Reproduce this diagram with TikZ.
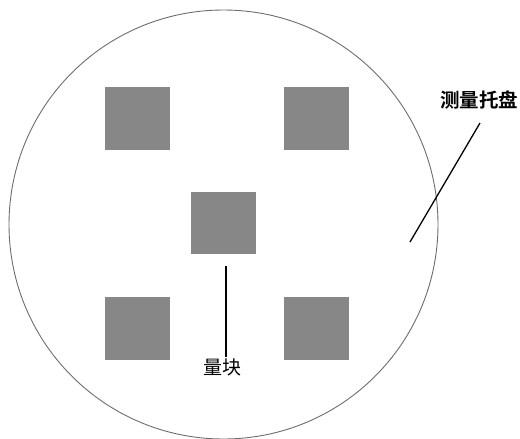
\documentclass[tikz,border=0pt]{standalone}
\usepackage{fontspec}
\newfontfamily\cjk{Noto Sans CJK SC}
\newfontfamily\cjkb{Noto Sans CJK SC Bold}
\definecolor{blockgray}{HTML}{878787}
\definecolor{rimgray}{HTML}{6E6E6E}
\begin{document}
\begin{tikzpicture}[x=1pt,y=-1pt,
  block/.style={fill=blockgray,draw=none},
  leader/.style={draw=black,line width=1.3pt},
  rim/.style={draw=rimgray,line width=0.9pt}]
\useasboundingbox (0,0) rectangle (520,439);
\fill[white] (0,0) rectangle (520,439);
\draw[rim] (223.5,224.5) circle (214.5);
\fill[block] (105,87) rectangle (170,150);
\fill[block] (284,87) rectangle (349,150);
\fill[block] (191,192) rectangle (256,254);
\fill[block] (105,297) rectangle (170,360);
\fill[block] (284,297) rectangle (349,360);
\node[inner sep=0pt,font=\cjk\fontsize{19}{19}\selectfont] (lk) at (222,367) {量块};
\coordinate (lkTop) at (226,266);
\coordinate (lkBot) at (226,357);
\draw[leader] (lkTop) -- (lkBot);
\node[inner sep=0pt,font=\cjkb\fontsize{19.5}{19.5}\selectfont] (tp) at (479,100) {测量托盘};
\coordinate (tpA) at (480,123);
\coordinate (tpB) at (410,242);
\draw[leader] (tpA) -- (tpB);
\end{tikzpicture}
\end{document}
